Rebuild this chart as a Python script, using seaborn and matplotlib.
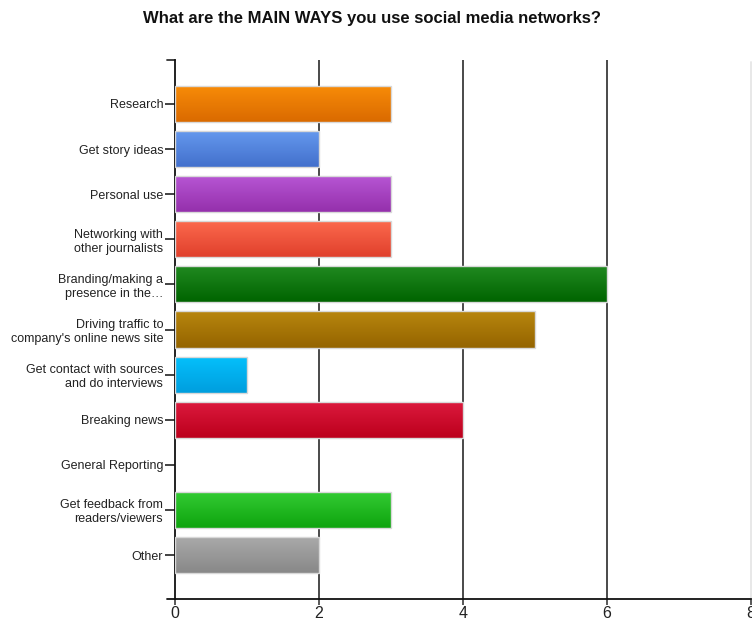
import numpy as np
import pandas as pd
import matplotlib
matplotlib.use("Agg")
import matplotlib.pyplot as plt
from matplotlib.colors import to_rgb
from matplotlib.lines import Line2D
import seaborn as sns

# Survey responses: main ways social media networks are used
categories = [
    "Research",
    "Get story ideas",
    "Personal use",
    "Networking with\nother journalists",
    "Branding/making a\npresence in the\u2026",
    "Driving traffic to\ncompany's online news site",
    "Get contact with sources\nand do interviews",
    "Breaking news",
    "General Reporting",
    "Get feedback from\nreaders/viewers",
    "Other",
]
counts = [3, 2, 3, 3, 6, 5, 1, 4, 0, 3, 2]
x_ticks = [0, 2, 4, 6, 8]

# Gradient colours for each bar (top -> bottom)
top_colors = ["#f88c08", "#6699ee", "#b856d4", "#fc6a4e", "#218a21",
              "#b8860e", "#04c0fc", "#dc1a3e", "#ffffff", "#34cc34", "#aaaaaa"]
bottom_colors = ["#da6a00", "#4270cc", "#9430ac", "#e0402c", "#006400",
                 "#946400", "#009ede", "#bc001c", "#ffffff", "#0ea40e", "#888888"]

sns.set_theme(style="white")
plt.rcParams["font.family"] = ["Liberation Sans", "DejaVu Sans"]

df = pd.DataFrame({"category": categories, "count": counts})

fig = plt.figure(figsize=(7.52, 6.23), dpi=100)
ax = fig.add_axes([175 / 752, 24 / 623, 576 / 752, 539 / 623])

sns.barplot(data=df, x="count", y="category", hue="category",
            palette=top_colors, order=categories, hue_order=categories,
            width=0.8, legend=False, ax=ax, zorder=3,
            edgecolor="#d8d8d8", linewidth=1.0)

ax.set_xlim(0, 8)
ax.set_ylim(len(categories) - 0.025, -0.975)

# Vertical gradient fill for each bar, clipped to the bar shape
for patch in list(ax.patches):
    bb = patch.get_bbox()
    if bb.width <= 0:
        patch.set_visible(False)
        continue
    idx = int(round((bb.y0 + bb.y1) / 2))
    c_top = np.array(to_rgb(top_colors[idx]))
    c_bot = np.array(to_rgb(bottom_colors[idx]))
    t = np.linspace(0, 1, 64)[:, None]
    grad = (c_top[None, :] * (1 - t) + c_bot[None, :] * t)[:, None, :]
    im = ax.imshow(grad, extent=(bb.x0, bb.x1, bb.y1, bb.y0), origin="upper",
                   aspect="auto", interpolation="bilinear", zorder=2.5)
    im.set_clip_path(patch)
    patch.set_facecolor("none")
    patch.set_zorder(3)

ax.set_xlim(0, 8)
ax.set_ylim(len(categories) - 0.025, -0.975)

# Vertical grid lines (the last one at the plot edge is faint)
for xv in x_ticks[1:-1]:
    ax.axvline(xv, color="#3c3c3c", lw=1.3, zorder=1)
ax.axvline(x_ticks[-1], color="#e6e6e6", lw=1.3, zorder=1,
           ymax=1 - 2 / 539, clip_on=False)

ax.set_xticks(x_ticks)
ax.set_xticklabels([str(v) for v in x_ticks], fontsize=11.5)
ax.tick_params(axis="x", direction="out", length=4, width=1.2, color="#3c3c3c",
               pad=1, bottom=True)
ax.tick_params(axis="y", direction="out", length=7, width=1.2, color="#222222",
               pad=1.5, left=True, labelsize=9)
for lab in ax.get_yticklabels():
    lab.set_multialignment("right")
    lab.set_color("#222222")
for lab in ax.get_xticklabels():
    lab.set_color("#222222")

ax.set_xlabel("")
ax.set_ylabel("")
for side in ["top", "right"]:
    ax.spines[side].set_visible(False)
for side in ["left", "bottom"]:
    ax.spines[side].set_color("#111111")
    ax.spines[side].set_linewidth(1.3)

# Short stubs at the axis ends
ax.add_line(Line2D([-8 / 576, 0], [1, 1], transform=ax.transAxes,
                   color="#333333", lw=1.3, clip_on=False))
ax.add_line(Line2D([-8 / 576, 0], [0, 0], transform=ax.transAxes,
                   color="#111111", lw=1.3, clip_on=False))

fig.suptitle("What are the MAIN WAYS you use social media networks?",
             x=372 / 752, y=1 - 18 / 623, va="center",
             fontsize=12, fontweight="bold", color="#111111")

fig.savefig("out.png", dpi=100, facecolor="white")
